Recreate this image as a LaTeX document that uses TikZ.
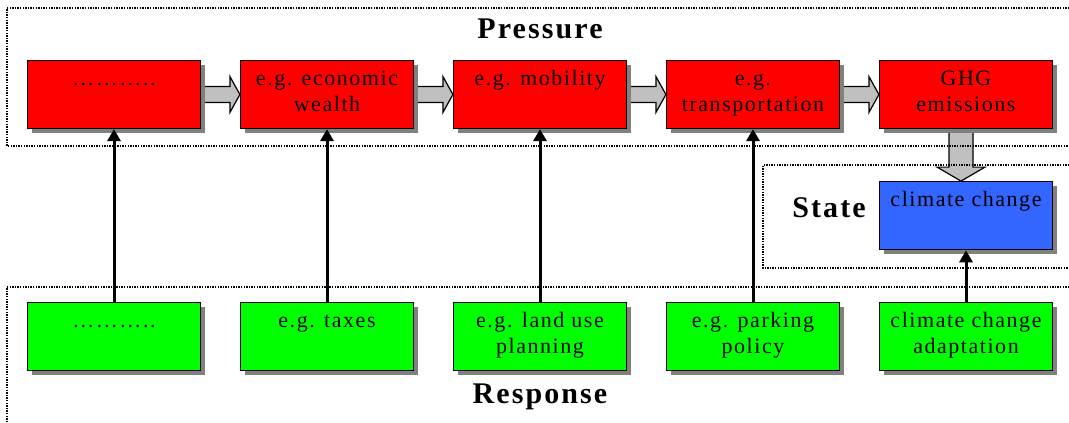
\documentclass[tikz,border=0pt]{standalone}
\usepackage{fontspec}
\setmainfont{Liberation Serif}[LetterSpace=7]
\usetikzlibrary{positioning, calc, arrows.meta, backgrounds, shadows}
\definecolor{presred}{RGB}{255,0,0}
\definecolor{respgreen}{RGB}{0,255,0}
\definecolor{stateblue}{RGB}{51,102,255}
\definecolor{arrowgray}{RGB}{192,192,192}
\definecolor{shadowgray}{RGB}{128,128,128}
\newcommand{\blocklbl}[1]{\parbox[c][60pt][t]{164pt}{\centering\rule{0pt}{21pt}#1}}
\tikzset{
    dpsirblock/.style={rectangle, draw=black, fill=#1, line width=1.2pt, minimum width=173pt, minimum height=68pt, inner sep=4pt, font=\fontsize{22}{25.5}\selectfont, drop shadow={shadow xshift=4pt, shadow yshift=-4pt, fill=shadowgray, opacity=1}},
    dpsirarrow/.style={-{Triangle[length=12pt, width=13pt]}, line width=3pt, black},
    dpsirflow/.style={draw=black, fill=arrowgray, line width=1.2pt, line join=miter},
    dpsirtitle/.style={font=\fontsize{30}{34}\selectfont\bfseries, anchor=base, inner sep=0pt},
    dpsirframe/.style={draw=black, line width=2.2pt, dash pattern=on 1.4pt off 1.2pt}
}

\begin{document}
\begin{tikzpicture}[x=1pt, y=-1pt]
\useasboundingbox (0,0) rectangle (1069,423);

% pressure chain
\node[dpsirblock=presred] (pdots) at (114,94.5) {\blocklbl{………..}};
\node[dpsirblock=presred, right=38.8pt of pdots] (pwealth) {\blocklbl{e.g. economic\\wealth}};
\node[dpsirblock=presred, right=38.8pt of pwealth] (pmobil) {\blocklbl{e.g. mobility}};
\node[dpsirblock=presred, right=38.8pt of pmobil] (ptrans) {\blocklbl{e.g.\\transportation}};
\node[dpsirblock=presred, right=38.8pt of ptrans] (pghg) {\blocklbl{GHG\\emissions}};

% state
\node[dpsirblock=stateblue, below=52pt of pghg] (sclimate) {\blocklbl{climate change}};

% responses
\node[dpsirblock=respgreen, below=173pt of pdots] (rdots) {\blocklbl{………..}};
\node[dpsirblock=respgreen, below=173pt of pwealth] (rtaxes) {\blocklbl{e.g. taxes}};
\node[dpsirblock=respgreen, below=173pt of pmobil] (rland) {\blocklbl{e.g. land use\\planning}};
\node[dpsirblock=respgreen, below=173pt of ptrans] (rpark) {\blocklbl{e.g. parking\\policy}};
\node[dpsirblock=respgreen, below=173pt of pghg] (radapt) {\blocklbl{climate change\\adaptation}};

% titles
\node[dpsirtitle] (tpress) at (540,38) {Pressure};
\node[dpsirtitle] (tstate) at (829,217) {State};
\node[dpsirtitle] (tresp) at (540,403) {Response};

\foreach \g/\p in {rdots/pdots, rtaxes/pwealth, rland/pmobil, rpark/ptrans}
    \draw[dpsirarrow] (\g) -- (\p);
\draw[dpsirarrow] (radapt) -- (sclimate);

\begin{scope}[on background layer]
\foreach \a/\b in {pdots/pwealth, pwealth/pmobil, pmobil/ptrans, ptrans/pghg}
    \draw[dpsirflow] ($(\a.east)+(0,-8)$) -- ($(\b.west)+(-10,-8)$) -- ($(\b.west)+(-10,-18)$) -- (\b.west) -- ($(\b.west)+(-10,18)$) -- ($(\b.west)+(-10,8)$) -- ($(\a.east)+(0,8)$);
\coordinate (ghgout) at ($(pghg.south)+(-5,0)$);
\coordinate (climin) at ($(sclimate.north)+(-5,0)$);
\draw[dpsirflow] ($(ghgout)+(-12,0)$) -- ($(climin)+(-12,-14)$) -- ($(climin)+(-24,-14)$) -- (climin) -- ($(climin)+(24,-14)$) -- ($(climin)+(12,-14)$) -- ($(ghgout)+(12,0)$);

% dotted frames
\draw[dpsirframe] (1090,8) -- (7,8) -- (7,146) -- (1090,146);
\draw[dpsirframe] (1090,165) -- (763,165) -- (763,268) -- (1090,268);
\draw[dpsirframe] (1090,287) -- (7,287) -- (7,440);
\end{scope}

\end{tikzpicture}
\end{document}
